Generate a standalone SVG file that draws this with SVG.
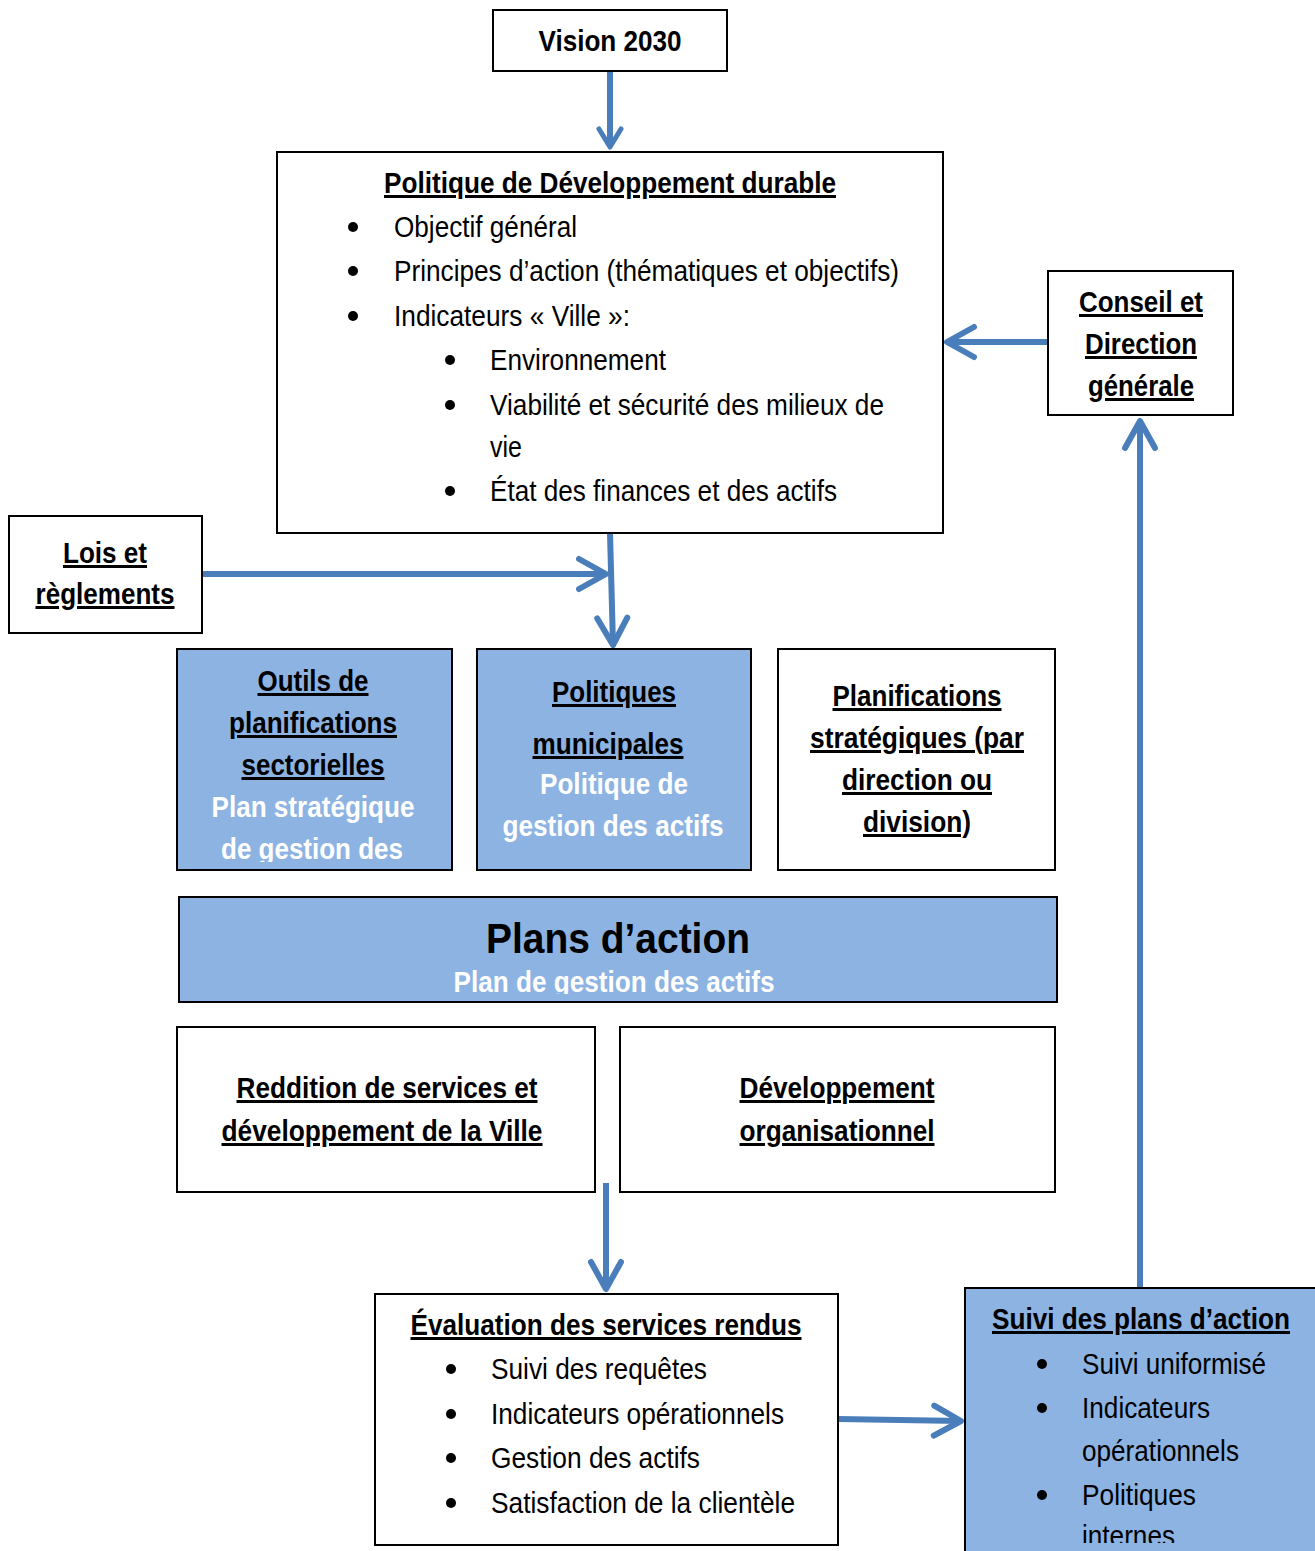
<svg xmlns="http://www.w3.org/2000/svg" width="1315" height="1551" viewBox="0 0 1315 1551">
<style>
  .box { fill: #ffffff; stroke: #000000; stroke-width: 2; }
  .blue { fill: #8db3e2; stroke: #000000; stroke-width: 2; }
  text { font-family: "Liberation Sans Narrow", "Liberation Sans", Arial, sans-serif; font-size: 30px; fill: #000; }
  .t { font-weight: bold; text-decoration: underline; text-anchor: middle; }
  .c { text-anchor: middle; }
  .big { font-size: 43px; font-weight: bold; text-anchor: middle; }
  .w { font-weight: bold; fill: #ffffff; text-anchor: middle; }
  .b { fill: #000; }
  .conn { stroke: #4a7ebb; stroke-width: 6; fill: none; }
</style>
<defs>
  <marker id="arr" markerUnits="userSpaceOnUse" viewBox="-34 -20 40 40" refX="0" refY="0" markerWidth="40" markerHeight="40" orient="auto">
    <path d="M-27,-15 L0,0 L-27,15" fill="none" stroke="#4a7ebb" stroke-width="6" stroke-linecap="round" stroke-linejoin="round"/>
  </marker>
  <marker id="arrS" markerUnits="userSpaceOnUse" viewBox="-26 -16 32 32" refX="0" refY="0" markerWidth="32" markerHeight="32" orient="auto">
    <path d="M-18,-11 L0,0 L-18,11" fill="none" stroke="#4a7ebb" stroke-width="5" stroke-linecap="round" stroke-linejoin="round"/>
  </marker>
  <clipPath id="clipOutils"><rect x="177" y="649" width="275" height="213"/></clipPath>
  <clipPath id="clipPlans"><rect x="179" y="897" width="878" height="97"/></clipPath>
  <clipPath id="clipSuivi"><rect x="965" y="1288" width="350" height="255"/></clipPath>
</defs>

<g id="connectors">
  <line class="conn" x1="610" y1="71" x2="610" y2="147" stroke-width="5" marker-end="url(#arrS)"/>
  <line class="conn" x1="1048" y1="342" x2="947" y2="342" marker-end="url(#arr)"/>
  <line class="conn" x1="1140" y1="1288" x2="1140" y2="421" marker-end="url(#arr)"/>
  <line class="conn" x1="202" y1="574" x2="606" y2="574" marker-end="url(#arr)"/>
  <line class="conn" x1="610" y1="533" x2="613" y2="645" marker-end="url(#arr)"/>
  <line class="conn" x1="606" y1="1183" x2="606" y2="1289" marker-end="url(#arr)"/>
  <line class="conn" x1="838" y1="1419" x2="961" y2="1421" marker-end="url(#arr)"/>
</g>

<g id="vision">
  <rect class="box" x="493" y="10" width="234" height="61"/>
  <text x="610" y="51" class="c" font-weight="bold" textLength="143" lengthAdjust="spacingAndGlyphs">Vision 2030</text>
</g>

<g id="politique-dd">
  <rect class="box" x="277" y="152" width="666" height="381"/>
  <text x="610" y="193" class="t" textLength="452" lengthAdjust="spacingAndGlyphs">Politique de Développement durable</text>
  <circle class="b" cx="353" cy="227" r="5"/>
  <text x="394" y="237" textLength="183" lengthAdjust="spacingAndGlyphs">Objectif général</text>
  <circle class="b" cx="353" cy="271" r="5"/>
  <text x="394" y="281" textLength="505" lengthAdjust="spacingAndGlyphs">Principes d’action (thématiques et objectifs)</text>
  <circle class="b" cx="353" cy="316" r="5"/>
  <text x="394" y="326" textLength="236" lengthAdjust="spacingAndGlyphs">Indicateurs « Ville »:</text>
  <circle class="b" cx="450" cy="360" r="5"/>
  <text x="490" y="370" textLength="176" lengthAdjust="spacingAndGlyphs">Environnement</text>
  <circle class="b" cx="450" cy="405" r="5"/>
  <text x="490" y="415" textLength="394" lengthAdjust="spacingAndGlyphs">Viabilité et sécurité des milieux de</text>
  <text x="490" y="457" textLength="32" lengthAdjust="spacingAndGlyphs">vie</text>
  <circle class="b" cx="450" cy="491" r="5"/>
  <text x="490" y="501" textLength="347" lengthAdjust="spacingAndGlyphs">État des finances et des actifs</text>
</g>

<g id="conseil">
  <rect class="box" x="1048" y="271" width="185" height="144"/>
  <text x="1141" y="312" class="t" textLength="124" lengthAdjust="spacingAndGlyphs">Conseil et</text>
  <text x="1141" y="354" class="t" textLength="112" lengthAdjust="spacingAndGlyphs">Direction</text>
  <text x="1141" y="396" class="t" textLength="106" lengthAdjust="spacingAndGlyphs">générale</text>
</g>

<g id="lois">
  <rect class="box" x="9" y="516" width="193" height="117"/>
  <text x="105" y="563" class="t" textLength="84" lengthAdjust="spacingAndGlyphs">Lois et</text>
  <text x="105" y="604" class="t" textLength="139" lengthAdjust="spacingAndGlyphs">règlements</text>
</g>

<g id="outils">
  <rect class="blue" x="177" y="649" width="275" height="221"/>
  <text x="313" y="691" class="t" textLength="111" lengthAdjust="spacingAndGlyphs">Outils de</text>
  <text x="313" y="733" class="t" textLength="168" lengthAdjust="spacingAndGlyphs">planifications</text>
  <text x="313" y="775" class="t" textLength="143" lengthAdjust="spacingAndGlyphs">sectorielles</text>
  <g clip-path="url(#clipOutils)">
    <text x="313" y="817" class="w" textLength="203" lengthAdjust="spacingAndGlyphs">Plan stratégique</text>
    <text x="312" y="859" class="w" textLength="182" lengthAdjust="spacingAndGlyphs">de gestion des</text>
  </g>
</g>

<g id="politiques-municipales">
  <rect class="blue" x="477" y="649" width="274" height="221"/>
  <text x="614" y="702" class="t" textLength="124" lengthAdjust="spacingAndGlyphs">Politiques</text>
  <text x="608" y="754" class="t" textLength="151" lengthAdjust="spacingAndGlyphs">municipales</text>
  <text x="614" y="794" class="w" textLength="148" lengthAdjust="spacingAndGlyphs">Politique de</text>
  <text x="613" y="836" class="w" textLength="221" lengthAdjust="spacingAndGlyphs">gestion des actifs</text>
</g>

<g id="planifications">
  <rect class="box" x="778" y="649" width="277" height="221"/>
  <text x="917" y="706" class="t" textLength="169" lengthAdjust="spacingAndGlyphs">Planifications</text>
  <text x="917" y="748" class="t" textLength="214" lengthAdjust="spacingAndGlyphs">stratégiques (par</text>
  <text x="917" y="790" class="t" textLength="150" lengthAdjust="spacingAndGlyphs">direction ou</text>
  <text x="917" y="832" class="t" textLength="108" lengthAdjust="spacingAndGlyphs">division)</text>
</g>

<g id="plans-action">
  <rect class="blue" x="179" y="897" width="878" height="105"/>
  <text x="618" y="953" class="big" textLength="264" lengthAdjust="spacingAndGlyphs">Plans d’action</text>
  <g clip-path="url(#clipPlans)">
    <text x="614" y="992" class="w" textLength="321" lengthAdjust="spacingAndGlyphs">Plan de gestion des actifs</text>
  </g>
</g>

<g id="reddition">
  <rect class="box" x="177" y="1027" width="418" height="165"/>
  <text x="387" y="1098" class="t" textLength="301" lengthAdjust="spacingAndGlyphs">Reddition de services et</text>
  <text x="382" y="1141" class="t" textLength="321" lengthAdjust="spacingAndGlyphs">développement de la Ville</text>
</g>

<g id="developpement">
  <rect class="box" x="620" y="1027" width="435" height="165"/>
  <text x="837" y="1098" class="t" textLength="195" lengthAdjust="spacingAndGlyphs">Développement</text>
  <text x="837" y="1141" class="t" textLength="195" lengthAdjust="spacingAndGlyphs">organisationnel</text>
</g>

<g id="evaluation">
  <rect class="box" x="375" y="1294" width="463" height="251"/>
  <text x="606" y="1335" class="t" textLength="391" lengthAdjust="spacingAndGlyphs">Évaluation des services rendus</text>
  <circle class="b" cx="451" cy="1369" r="5"/>
  <text x="491" y="1379" textLength="216" lengthAdjust="spacingAndGlyphs">Suivi des requêtes</text>
  <circle class="b" cx="451" cy="1414" r="5"/>
  <text x="491" y="1424" textLength="293" lengthAdjust="spacingAndGlyphs">Indicateurs opérationnels</text>
  <circle class="b" cx="451" cy="1458" r="5"/>
  <text x="491" y="1468" textLength="209" lengthAdjust="spacingAndGlyphs">Gestion des actifs</text>
  <circle class="b" cx="451" cy="1503" r="5"/>
  <text x="491" y="1513" textLength="304" lengthAdjust="spacingAndGlyphs">Satisfaction de la clientèle</text>
</g>

<g id="suivi">
  <rect class="blue" x="965" y="1288" width="400" height="320"/>
  <text x="1141" y="1329" class="t" textLength="298" lengthAdjust="spacingAndGlyphs">Suivi des plans d’action</text>
  <circle class="b" cx="1042" cy="1364" r="5"/>
  <text x="1082" y="1374" textLength="184" lengthAdjust="spacingAndGlyphs">Suivi uniformisé</text>
  <circle class="b" cx="1042" cy="1408" r="5"/>
  <text x="1082" y="1418" textLength="128" lengthAdjust="spacingAndGlyphs">Indicateurs</text>
  <text x="1082" y="1461" textLength="157" lengthAdjust="spacingAndGlyphs">opérationnels</text>
  <circle class="b" cx="1042" cy="1495" r="5"/>
  <text x="1082" y="1505" textLength="114" lengthAdjust="spacingAndGlyphs">Politiques</text>
  <g clip-path="url(#clipSuivi)">
    <text x="1082" y="1546" textLength="93" lengthAdjust="spacingAndGlyphs">internes</text>
  </g>
</g>
</svg>
